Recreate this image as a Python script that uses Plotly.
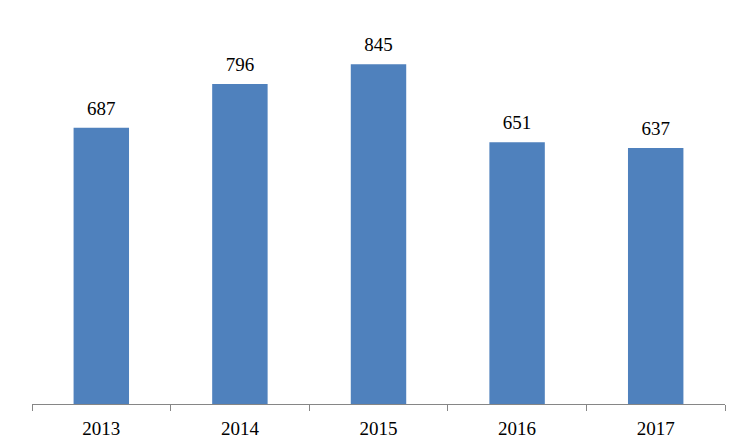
import plotly.graph_objects as go

years = ["2013", "2014", "2015", "2016", "2017"]
values = [687, 796, 845, 651, 637]

BAR_COLOR = "#4F81BD"
FONT = "Liberation Serif"

fig = go.Figure()
fig.add_trace(go.Bar(x=years, y=values, marker_color=BAR_COLOR,
                     marker_line_width=0, width=0.4, hoverinfo="skip"))

# value labels above each bar (invisible markers push the text up a little)
fig.add_trace(go.Scatter(x=years, y=values, mode="markers+text",
                         text=[str(v) for v in values], textposition="top center",
                         marker=dict(size=12, opacity=0),
                         textfont=dict(family=FONT, size=19, color="black"),
                         hoverinfo="skip", cliponaxis=False))

# the page body has an 8px margin, so the figure is sized a bit smaller
fig.update_layout(
    width=731, height=437,
    margin=dict(l=24, r=14, t=0, b=41, autoexpand=False),
    plot_bgcolor="white", paper_bgcolor="white",
    showlegend=False,
    xaxis=dict(type="category", showline=True, linecolor="#868686", linewidth=1,
               ticks="outside", tickson="boundaries", ticklen=6, tickcolor="#868686",
               ticklabelstandoff=7,
               tickfont=dict(family=FONT, size=19, color="black"),
               showgrid=False, range=[-0.5, 4.5], automargin=False),
    yaxis=dict(range=[0, 985], showticklabels=False, showgrid=False,
               zeroline=False, showline=False, ticks="", automargin=False),
)

fig.write_html("out.html")
